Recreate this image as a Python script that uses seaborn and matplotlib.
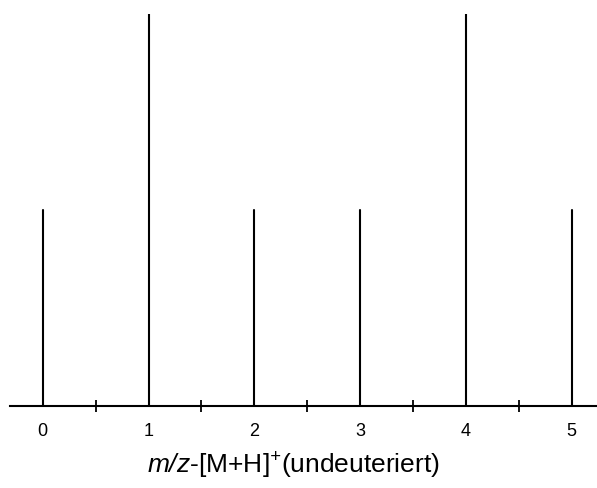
import matplotlib
matplotlib.use("Agg")
import matplotlib.pyplot as plt
import seaborn as sns
import pandas as pd

positions = [0, 1, 2, 3, 4, 5]
intensities = [0.5, 1.0, 0.5, 0.5, 1.0, 0.5]
tick_labels = ["0", "1", "2", "3", "4", "5"]
xlabel = r"$m/z$-[M+H]$^{+}$(undeuteriert)"

sns.set_style("white")
plt.rcParams["font.family"] = ["Liberation Sans", "DejaVu Sans"]
plt.rcParams["mathtext.fontset"] = "custom"
plt.rcParams["mathtext.it"] = "Liberation Sans:italic"
plt.rcParams["mathtext.rm"] = "Liberation Sans:italic"
plt.rcParams["text.color"] = "black"
plt.rcParams["xtick.color"] = "black"
plt.rcParams["axes.labelcolor"] = "black"

rows = []
for i, (p, h) in enumerate(zip(positions, intensities)):
    rows.append({"x": p, "y": 0.0, "u": i})
    rows.append({"x": p, "y": h, "u": i})
df = pd.DataFrame(rows)

fig = plt.figure(figsize=(5.97, 4.88), dpi=100)
ax = fig.add_axes([10 / 597, 1 - 406 / 488, 1 - 10 / 597, (406 - 14) / 488])
sns.lineplot(data=df, x="x", y="y", units="u", estimator=None, sort=False,
             color="black", linewidth=1.5, ax=ax)

ax.set_xlim(-0.31, 5.24)
ax.set_ylim(0, 1)
for s in ["top", "right", "left"]:
    ax.spines[s].set_visible(False)
ax.spines["bottom"].set_linewidth(1.5)
ax.spines["bottom"].set_color("black")
ax.set_yticks([])
ax.set_ylabel("")
ax.set_xticks(positions)
ax.set_xticklabels(tick_labels, fontsize=13, color="black")
ax.set_xticks([0.5, 1.5, 2.5, 3.5, 4.5], minor=True)
ax.tick_params(axis="x", which="major", length=0, pad=12)
ax.tick_params(axis="x", which="minor", direction="inout", length=8, width=1.3, color="black", bottom=True)
ax.set_xlabel(xlabel, fontsize=19, labelpad=7, color="black")
ax.xaxis.set_label_coords(0.482, -0.115)

fig.savefig("out.png", dpi=100)
